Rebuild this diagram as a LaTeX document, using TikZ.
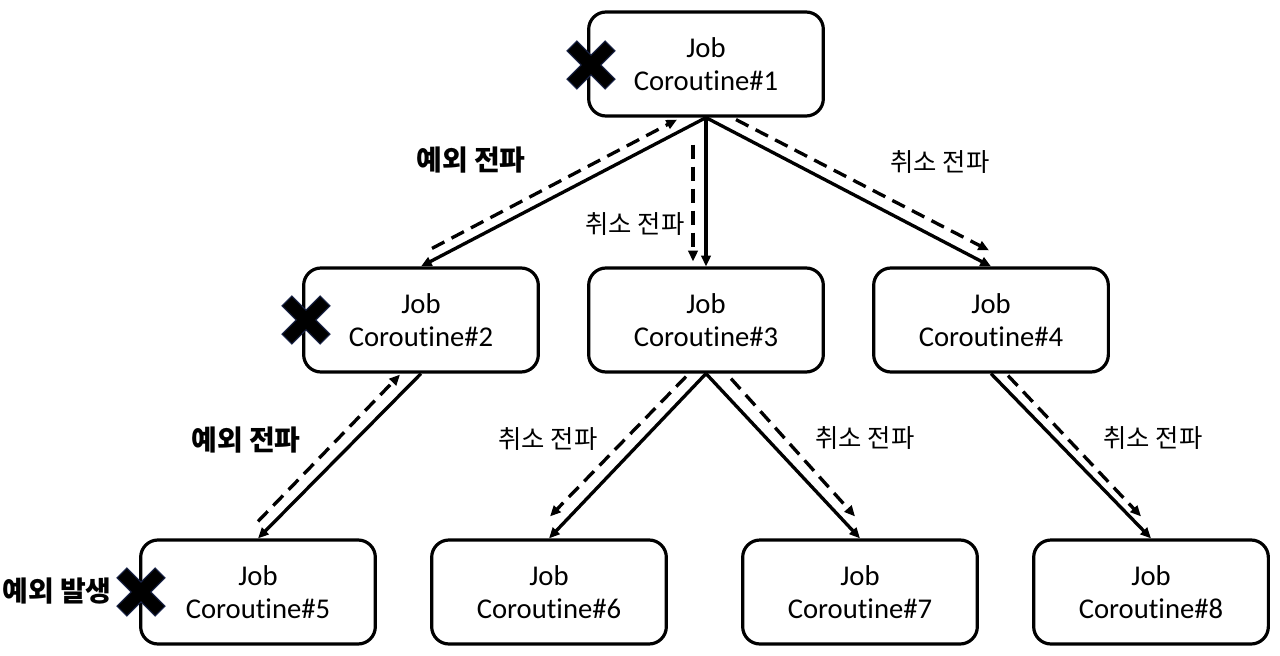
\documentclass[tikz,border=0pt]{standalone}
\usepackage{fontspec}
\setmainfont{Carlito}[Ligatures={NoCommon}]
\newfontfamily\kr{Noto Sans CJK KR}
\usetikzlibrary{arrows.meta,calc}
\definecolor{xnavy}{RGB}{25,35,70}
\newcommand\ctnword{Corout\kern0pt ine}
\begin{document}
\begin{tikzpicture}[x=0.75pt,y=-0.75pt,
  job/.style={draw, line width=2.4pt, rounded corners=13pt, minimum width=176pt, minimum height=78pt,
              align=center, font=\fontsize{21.5}{25}\selectfont, inner sep=0pt},
  link/.style={line width=2.5pt, -{Triangle[length=8pt,width=7pt]}},
  prop/.style={line width=2.5pt, dash pattern=on 10.5pt off 6pt, -{Triangle[length=8pt,width=7pt]}},
  lbl/.style={font=\kr\fontsize{19}{22}\selectfont, inner sep=0pt},
  blbl/.style={font=\kr\bfseries\fontsize{21}{24}\selectfont, inner sep=0pt},
  xmk/.pic={\filldraw[fill=black, draw=xnavy, line width=0.8pt, rotate=45]
      (-7,-27) -- (7,-27) -- (7,-7) -- (27,-7) -- (27,7) -- (7,7) -- (7,27) -- (-7,27)
      -- (-7,7) -- (-27,7) -- (-27,-7) -- (-7,-7) -- cycle;}
]
\useasboundingbox (0,0) rectangle (1280,656);

\node[job] (c1) at (706,64) {Job\\\ctnword\#1};
\node[job] (c2) at (421,320) {Job\\\ctnword\#2};
\node[job] (c3) at (706,320) {Job\\\ctnword\#3};
\node[job] (c4) at (991,320) {Job\\\ctnword\#4};
\node[job] (c5) at (258,592) {Job\\\ctnword\#5};
\node[job] (c6) at (549,592) {Job\\\ctnword\#6};
\node[job] (c7) at (860,592) {Job\\\ctnword\#7};
\node[job] (c8) at (1151,592) {Job\\\ctnword\#8};

% solid parent-child links
\draw[link] (c1.south) -- (c2.north);
\draw[link] (c1.south) -- (c3.north);
\draw[link] (c1.south) -- (c4.north);
\draw[link] (c2.south) -- (c5.north);
\draw[link] (c3.south) -- (c6.north);
\draw[link] (c3.south) -- (c7.north);
\draw[link] (c4.south) -- (c8.north);

% dashed propagation
\draw[prop] ($(c2.north)+(11,-18)$) -- ($(c1.south)+(-29,2)$);
\draw[prop] ($(c1.south)+(-13,27)$) -- ($(c3.north)+(-13,-5)$);
\draw[prop] ($(c1.south)+(30,2)$) -- ($(c4.north)+(-2,-16)$);
\draw[prop] ($(c5.north)+(0,-17)$) -- ($(c2.south)+(-21,1)$);
\draw[prop] ($(c3.south)+(-20,3)$) -- ($(c6.north)+(1,-22)$);
\draw[prop] ($(c3.south)+(25,5)$) -- ($(c7.north)+(-5,-22)$);
\draw[prop] ($(c4.south)+(17,2)$) -- ($(c8.north)+(-10,-22)$);

% labels
\node[blbl] (l1) at (471,160) {예외 전파};
\node[lbl]  (l2) at (635,224) {취소 전파};
\node[lbl]  (l3) at (940,162) {취소 전파};
\node[blbl] (l4) at (246,440) {예외 전파};
\node[lbl]  (l5) at (548,439) {취소 전파};
\node[lbl]  (l6) at (865,438) {취소 전파};
\node[lbl]  (l7) at (1153,438) {취소 전파};
\node[blbl] (l8) at (57,591) {예외 발생};

% cross marks
\pic at (591,65) {xmk};
\pic at (306,320) {xmk};
\pic at (141,592) {xmk};
\end{tikzpicture}
\end{document}
